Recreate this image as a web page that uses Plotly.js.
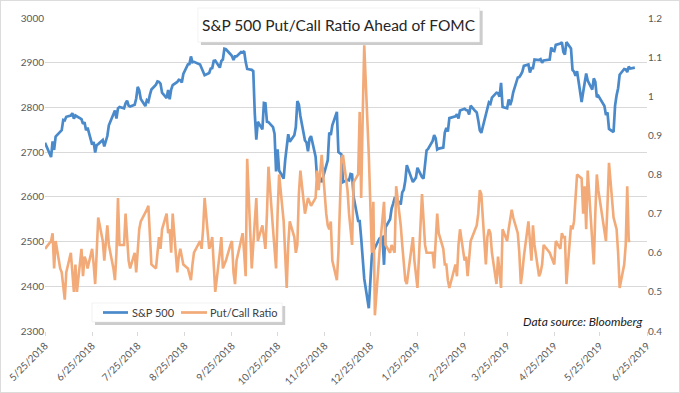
<!DOCTYPE html>
<html>
<head>
<meta charset="utf-8">
<script src="https://cdn.plot.ly/plotly-3.0.1.min.js"></script>
<style>
html,body{margin:0;padding:0;background:#fff;}
#wrap{position:relative;width:680px;height:393px;}
#chart{position:absolute;left:0;top:0;width:680px;height:393px;}
#frame{position:absolute;left:0;top:0;width:678px;height:391px;border:1px solid #dcdcdc;pointer-events:none;}
</style>
</head>
<body>
<div id="wrap"><div id="chart"></div><div id="frame"></div></div>
<script>
const dates = [
"2018-05-25","2018-05-29","2018-05-30","2018-05-31",
"2018-06-01","2018-06-04","2018-06-05","2018-06-06","2018-06-07","2018-06-08","2018-06-11","2018-06-12","2018-06-13","2018-06-14","2018-06-15","2018-06-18","2018-06-19","2018-06-20","2018-06-21","2018-06-22","2018-06-25","2018-06-26","2018-06-27","2018-06-28","2018-06-29",
"2018-07-02","2018-07-03","2018-07-05","2018-07-06","2018-07-09","2018-07-10","2018-07-11","2018-07-12","2018-07-13","2018-07-16","2018-07-17","2018-07-18","2018-07-19","2018-07-20","2018-07-23","2018-07-24","2018-07-25","2018-07-26","2018-07-27","2018-07-30","2018-07-31",
"2018-08-01","2018-08-02","2018-08-03","2018-08-06","2018-08-07","2018-08-08","2018-08-09","2018-08-10","2018-08-13","2018-08-14","2018-08-15","2018-08-16","2018-08-17","2018-08-20","2018-08-21","2018-08-22","2018-08-23","2018-08-24","2018-08-27","2018-08-28","2018-08-29","2018-08-30","2018-08-31",
"2018-09-04","2018-09-05","2018-09-06","2018-09-07","2018-09-10","2018-09-11","2018-09-12","2018-09-13","2018-09-14","2018-09-17","2018-09-18","2018-09-19","2018-09-20","2018-09-21","2018-09-24","2018-09-25","2018-09-26","2018-09-27","2018-09-28",
"2018-10-01","2018-10-02","2018-10-03","2018-10-04","2018-10-05","2018-10-08","2018-10-09","2018-10-10","2018-10-11","2018-10-12","2018-10-15","2018-10-16","2018-10-17","2018-10-18","2018-10-19","2018-10-22","2018-10-23","2018-10-24","2018-10-25","2018-10-26","2018-10-29","2018-10-30","2018-10-31",
"2018-11-01","2018-11-02","2018-11-05","2018-11-06","2018-11-07","2018-11-08","2018-11-09","2018-11-12","2018-11-13","2018-11-14","2018-11-15","2018-11-16","2018-11-19","2018-11-20","2018-11-21","2018-11-23","2018-11-26","2018-11-27","2018-11-28","2018-11-29","2018-11-30",
"2018-12-03","2018-12-04","2018-12-06","2018-12-07","2018-12-10","2018-12-11","2018-12-12","2018-12-13","2018-12-14","2018-12-17","2018-12-18","2018-12-19","2018-12-20","2018-12-21","2018-12-24","2018-12-26","2018-12-27","2018-12-28","2018-12-31",
"2019-01-02","2019-01-03","2019-01-04","2019-01-07","2019-01-08","2019-01-09","2019-01-10","2019-01-11","2019-01-14","2019-01-15","2019-01-16","2019-01-17","2019-01-18","2019-01-22","2019-01-23","2019-01-24","2019-01-25","2019-01-28","2019-01-29","2019-01-30","2019-01-31",
"2019-02-01","2019-02-04","2019-02-05","2019-02-06","2019-02-07","2019-02-08","2019-02-11","2019-02-12","2019-02-13","2019-02-14","2019-02-15","2019-02-19","2019-02-20","2019-02-21","2019-02-22","2019-02-25","2019-02-26","2019-02-27","2019-02-28",
"2019-03-01","2019-03-04","2019-03-05","2019-03-06","2019-03-07","2019-03-08","2019-03-11","2019-03-12","2019-03-13","2019-03-14","2019-03-15","2019-03-18","2019-03-19","2019-03-20","2019-03-21","2019-03-22","2019-03-25","2019-03-26","2019-03-27","2019-03-28","2019-03-29",
"2019-04-01","2019-04-02","2019-04-03","2019-04-04","2019-04-05","2019-04-08","2019-04-09","2019-04-10","2019-04-11","2019-04-12","2019-04-15","2019-04-16","2019-04-17","2019-04-18","2019-04-22","2019-04-23","2019-04-24","2019-04-25","2019-04-26","2019-04-29","2019-04-30",
"2019-05-01","2019-05-02","2019-05-03","2019-05-06","2019-05-07","2019-05-08","2019-05-09","2019-05-10","2019-05-13","2019-05-14","2019-05-15","2019-05-16","2019-05-17","2019-05-20","2019-05-21","2019-05-22","2019-05-23","2019-05-24","2019-05-28","2019-05-29","2019-05-30","2019-05-31",
"2019-06-03","2019-06-04","2019-06-05","2019-06-06","2019-06-07","2019-06-10","2019-06-11","2019-06-12","2019-06-13","2019-06-14","2019-06-17"
];

const spx = [
2721,2689,2724,2705,
2735,2747,2749,2772,2771,2779,2782,2787,2775,2782,2780,2774,2763,2767,2749,2755,2717,2723,2699,2716,2718,
2727,2713,2736,2760,2784,2793,2775,2798,2801,2798,2809,2815,2804,2802,2806,2820,2846,2838,2819,2803,2816,
2813,2828,2840,2851,2858,2857,2853,2833,2821,2839,2818,2840,2850,2857,2862,2861,2856,2875,2896,2897,2914,2901,2902,
2896,2888,2878,2872,2877,2887,2888,2904,2905,2889,2904,2907,2931,2930,2919,2915,2906,2914,2914,
2924,2923,2926,2902,2886,2884,2881,2786,2728,2768,2751,2810,2809,2768,2767,2756,2741,2657,2706,2659,2641,2682,2712,
2740,2723,2738,2756,2814,2807,2781,2726,2722,2702,2730,2736,2690,2641,2649,2633,2674,2682,2744,2738,2760,
2790,2700,2695,2633,2638,2637,2651,2650,2600,2546,2546,2507,2467,2417,2351,2468,2489,2486,2507,
2510,2448,2532,2550,2574,2585,2597,2596,2583,2610,2616,2636,2671,2633,2639,2643,2665,2644,2641,2682,2704,
2707,2725,2738,2731,2706,2708,2710,2744,2754,2746,2776,2780,2785,2775,2793,2797,2794,2793,2784,
2804,2792,2789,2771,2749,2743,2784,2792,2811,2808,2822,2833,2832,2824,2855,2801,2798,2818,2805,2816,2834,
2867,2868,2873,2880,2893,2896,2878,2888,2888,2907,2906,2908,2900,2905,2907,2934,2927,2926,2940,2943,2946,
2924,2918,2946,2932,2884,2880,2871,2881,2812,2834,2851,2876,2860,2840,2865,2857,2823,2826,2803,2783,2789,2752,
2745,2804,2827,2843,2873,2886,2885,2879,2891,2887,2889
];

const putCall = [
0.61,0.63,0.65,0.56,
0.63,0.56,0.55,0.52,0.48,0.55,0.60,0.55,0.50,0.57,0.50,0.61,0.54,0.59,0.58,0.56,0.61,0.57,0.52,0.60,0.69,
0.63,0.58,0.67,0.62,0.56,0.53,0.60,0.74,0.62,0.62,0.70,0.63,0.58,0.56,0.60,0.55,0.62,0.66,0.68,0.70,0.71,
0.72,0.64,0.57,0.56,0.60,0.64,0.61,0.66,0.70,0.65,0.66,0.60,0.70,0.55,0.59,0.61,0.59,0.57,0.56,0.54,0.53,0.57,0.60,
0.63,0.61,0.66,0.74,0.61,0.62,0.64,0.57,0.50,0.60,0.64,0.56,0.57,0.58,0.62,0.63,0.55,0.52,0.58,
0.63,0.65,0.60,0.54,0.84,0.56,0.62,0.68,0.74,0.63,0.67,0.64,0.61,0.70,0.82,0.66,0.60,0.56,0.70,0.80,0.68,0.60,0.51,
0.62,0.68,0.64,0.60,0.62,0.75,0.81,0.70,0.72,0.74,0.73,0.72,0.74,0.81,0.76,0.85,0.70,0.67,0.66,0.68,0.58,
0.53,0.60,0.84,0.85,0.76,0.70,0.65,0.62,0.78,0.80,0.96,0.74,0.95,1.13,0.85,0.60,0.73,0.44,0.60,
0.68,0.73,0.62,0.60,0.62,0.61,0.60,0.77,0.67,0.62,0.57,0.53,0.52,0.64,0.58,0.54,0.51,0.75,0.68,0.62,0.60,
0.60,0.60,0.56,0.62,0.70,0.65,0.61,0.57,0.57,0.53,0.51,0.57,0.54,0.62,0.66,0.58,0.59,0.54,0.58,
0.63,0.66,0.67,0.70,0.76,0.75,0.57,0.64,0.66,0.65,0.60,0.52,0.59,0.55,0.51,0.66,0.63,0.66,0.68,0.71,0.69,
0.65,0.60,0.52,0.55,0.59,0.68,0.63,0.58,0.67,0.62,0.54,0.55,0.57,0.62,0.60,0.59,0.58,0.57,0.63,0.61,0.65,
0.64,0.64,0.52,0.67,0.66,0.68,0.75,0.80,0.79,0.70,0.77,0.66,0.81,0.62,0.57,0.70,0.80,0.76,0.66,0.63,0.72,0.83,
0.69,0.67,0.66,0.60,0.51,0.57,0.62,0.77,0.63,0.63
];

const tickDates = ["2018-05-25","2018-06-25","2018-07-25","2018-08-25","2018-09-25","2018-10-25","2018-11-25","2018-12-25","2019-01-25","2019-02-25","2019-03-25","2019-04-25","2019-05-25","2019-06-25"];
const tickLabels = ["5/25/2018","6/25/2018","7/25/2018","8/25/2018","9/25/2018","10/25/2018","11/25/2018","12/25/2018","1/25/2019","2/25/2019","3/25/2019","4/25/2019","5/25/2019","6/25/2019"];
const seriesNames = ["S&P 500","Put/Call Ratio"];
const seriesColors = ["#4a8aca","#f2aa78"];
const titleText = "S&P 500 Put/Call Ratio Ahead of FOMC";
const sourceText = "Data source: Bloomberg";

const traces = [
  {x: dates, y: spx, name: seriesNames[0], type: "scatter", mode: "lines",
   line: {color: seriesColors[0], width: 2.7}, yaxis: "y", showlegend: false},
  {x: dates.slice(0, putCall.length), y: putCall, name: seriesNames[1], type: "scatter", mode: "lines",
   line: {color: seriesColors[1], width: 2.6}, yaxis: "y2", showlegend: false}
];

const fam = "Lato, 'Open Sans', sans-serif";
const tickFont = {family: fam, size: 10, color: "#595959"};

const layout = {
  width: 680, height: 393,
  margin: {l: 45, r: 33, t: 18, b: 62},
  paper_bgcolor: "#ffffff", plot_bgcolor: "#ffffff",
  showlegend: false,
  xaxis: {type: "date", range: ["2018-05-25", "2019-06-25"],
    tickvals: tickDates, ticktext: tickLabels, tickangle: -45,
    tickfont: tickFont, showgrid: false, zeroline: false,
    showline: false, ticks: "outside", ticklen: 4, tickcolor: "#d9d9d9"},
  yaxis: {range: [2300, 3000], dtick: 100, tick0: 2300, tickfont: tickFont,
    showgrid: true, gridcolor: "#d9d9d9", gridwidth: 1, zeroline: false,
    showline: false, ticks: ""},
  yaxis2: {range: [0.4, 1.2], dtick: 0.1, tick0: 0.4, overlaying: "y", side: "right",
    tickfont: tickFont, showgrid: false, zeroline: false, showline: false, ticks: ""},
  shapes: [
    {type: "rect", xref: "paper", yref: "paper", x0: 0.259, x1: 0.727, y0: 0.914, y1: 1.023,
     fillcolor: "rgba(0,0,0,0.2)", line: {width: 0}, layer: "above"},
    {type: "rect", xref: "paper", yref: "paper", x0: 0.254, x1: 0.722, y0: 0.923, y1: 1.032,
     fillcolor: "#ffffff", line: {color: "#e6e6e6", width: 0.5}, layer: "above"},
    {type: "rect", xref: "paper", yref: "paper", x0: 0.083, x1: 0.399, y0: 0.019, y1: 0.080,
     fillcolor: "rgba(0,0,0,0.2)", line: {width: 0}, layer: "above"},
    {type: "rect", xref: "paper", yref: "paper", x0: 0.078, x1: 0.394, y0: 0.029, y1: 0.0895,
     fillcolor: "#ffffff", line: {color: "#e6e6e6", width: 0.5}, layer: "above"},
    {type: "line", xref: "paper", yref: "paper", x0: 0.0963, x1: 0.1379, y0: 0.0591, y1: 0.0591,
     line: {color: seriesColors[0], width: 2.7}, layer: "above"},
    {type: "line", xref: "paper", yref: "paper", x0: 0.2259, x1: 0.2691, y0: 0.0591, y1: 0.0591,
     line: {color: seriesColors[1], width: 2.7}, layer: "above"}
  ],
  annotations: [
    {text: titleText, xref: "paper", yref: "paper", x: 0.488, y: 0.978,
     xanchor: "center", yanchor: "middle", showarrow: false,
     font: {family: fam, size: 15.5, color: "#262626"}},
    {text: seriesNames[0], xref: "paper", yref: "paper", x: 0.1410, y: 0.0591,
     xanchor: "left", yanchor: "middle", showarrow: false,
     font: {family: fam, size: 11, color: "#404040"}},
    {text: seriesNames[1], xref: "paper", yref: "paper", x: 0.2710, y: 0.0591,
     xanchor: "left", yanchor: "middle", showarrow: false,
     font: {family: fam, size: 11, color: "#404040"}},
    {text: "<i>" + sourceText + "</i>", xref: "paper", yref: "paper", x: 0.997, y: 0.029,
     xanchor: "right", yanchor: "middle", showarrow: false,
     font: {family: fam, size: 12, color: "#1a1a1a"}}
  ]
};

Plotly.newPlot("chart", traces, layout, {displayModeBar: false, staticPlot: true});
</script>
</body>
</html>
